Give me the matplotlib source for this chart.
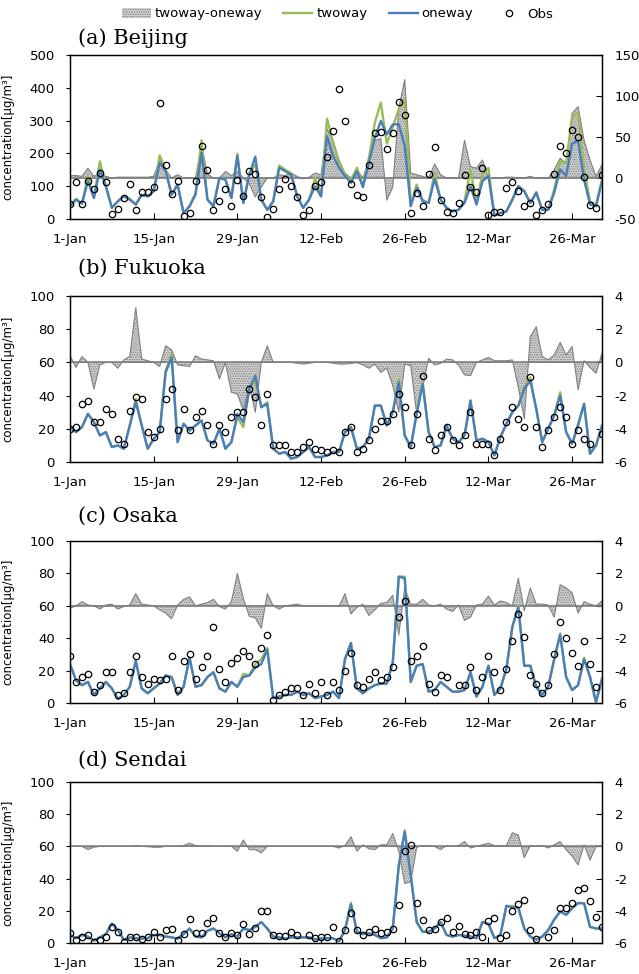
import numpy as np
import pandas as pd
import matplotlib
matplotlib.use('Agg')
import matplotlib.pyplot as plt
import matplotlib.dates as mdates
from matplotlib.patches import Patch
from matplotlib.lines import Line2D

nan = np.nan
dates = pd.date_range('2013-01-01', periods=90)

# (a) Beijing
bj_oneway = [39, 59, 47, 115, 64, 150, 100, 34, 54, 69, 59, 44, 74, 69, 85, 171, 146, 74, 105, 18,
             39, 74, 202, 59, 39, 125, 120, 64, 192, 49, 135, 190, 59, 28, 54, 156, 146, 135, 69, 34,
             59, 100, 69, 253, 192, 156, 131, 110, 146, 97, 171, 248, 299, 258, 288, 289, 222, 39, 95, 54,
             49, 122, 59, 34, 23, 28, 49, 100, 44, 115, 131, 10, 18, 23, 59, 100, 85, 49, 80, 28,
             28, 80, 151, 131, 230, 238, 120, 44, 39, 115]
bj_twoway = [39, 62, 47, 130, 64, 176, 100, 34, 54, 69, 62, 44, 74, 69, 85, 194, 150, 74, 105, 18,
             39, 80, 240, 59, 39, 125, 120, 64, 199, 49, 140, 166, 59, 28, 54, 163, 150, 140, 69, 34,
             59, 125, 69, 306, 233, 171, 135, 118, 156, 100, 185, 294, 355, 230, 280, 335, 365, 45, 105, 58,
             49, 141, 59, 34, 23, 28, 55, 150, 50, 136, 156, 10, 18, 23, 59, 100, 85, 49, 82, 28,
             28, 90, 176, 171, 312, 324, 151, 54, 44, 120]
bj_obs = [47, 112, 47, 115, 92, 139, 112, 16, 29, 64, 108, 27, 83, 83, 97, 355, 166, 76, 117, 8,
          19, 117, 222, 149, 26, 54, 92, 41, 119, 71, 145, 136, 67, 6, 29, 90, 122, 102, 68, 11,
          26, 100, 112, 190, 268, 396, 298, 107, 72, 66, 166, 261, 266, 213, 262, 357, 317, 17, 80, 41,
          136, 219, 59, 20, 17, 49, 133, 97, 83, 156, 11, 21, 21, 96, 114, 84, 40, 49, 12, 27,
          47, 136, 222, 202, 271, 251, 129, 42, 33, 134]
bj_diff = [3, 3, 2, 12, 2, 6, 2, 0, 1, 1, 1, 1, 1, 1, 2, 22, 10, 0, 4, 0,
           0, 0, 40, 5, 0, 0, 8, 3, 8, 0, -7, -23, -11, 0, 0, 4, 3, 6, 2, -1,
           1, 6, 4, 60, 46, 22, 6, 0, 10, 0, 22, 46, 48, -27, -11, 85, 120, 6, 4, 2,
           0, 17, 4, 0, 0, 0, 46, 14, 12, 22, 0, 0, 0, 1, 1, 0, 0, 2, 0, 0,
           0, 10, 24, 18, 79, 87, 46, 22, 2, 16]

# (b) Fukuoka
fk_oneway = [21, 18, 21, 29, 24, 16, 18, 9, 10, 8, 22, 36, 22, 8, 14, 18, 54, 63, 12, 23,
             19, 22, 25, 13, 11, 20, 8, 12, 29, 24, 44, 52, 33, 35, 8, 5, 6, 2, 3, 6,
             9, 3, 3, 4, 6, 6, 18, 21, 8, 9, 14, 34, 34, 22, 30, 48, 16, 9, 29, 47,
             18, 9, 10, 22, 14, 12, 16, 37, 13, 14, 12, 4, 15, 23, 30, 34, 44, 49, 32, 12,
             20, 28, 40, 18, 11, 22, 35, 5, 10, 22]
fk_twoway = [21, 18, 21, 29, 24, 16, 18, 9, 10, 8, 22, 38, 22, 8, 14, 18, 55, 65, 12, 23,
             19, 22, 25, 13, 11, 20, 8, 12, 27, 21, 44, 49, 33, 36, 8, 5, 6, 2, 3, 6,
             9, 3, 3, 4, 6, 6, 18, 21, 8, 9, 14, 34, 34, 22, 30, 50, 16, 9, 30, 48,
             18, 9, 10, 22, 14, 12, 16, 37, 13, 14, 12, 4, 15, 23, 30, 34, 45, 51, 32, 12,
             20, 28, 42, 18, 11, 23, 35, 5, 10, 22]
fk_obs = [20, 21, 35, 37, 24, 24, 32, 29, 14, 11, 31, 39, 38, 18, 15, 20, 38, 44, 19, 32,
          19, 27, 31, 22, 11, 22, 18, 27, 30, 30, 44, 39, 22, 41, 10, 10, 10, 6, 6, 9,
          12, 8, 7, 6, 7, 6, 18, 21, 6, 8, 13, 20, 25, 25, 29, 41, 33, 10, 29, 52,
          14, 7, 16, 21, 13, 10, 16, 30, 11, 11, 11, 4, 14, 24, 33, 26, 21, 51, 21, 9,
          19, 27, 33, 27, 11, 19, 14, 11, nan, 17]
fk_diff = [0.4, -0.3, 0.35, 0, -1.6, -0.15, 0, 0, -0.35, 0.15, 0.35, 3.3, 0.2, 0.1, 0, -0.25, 1.0, 0.75, -0.15, -0.2,
           -0.25, 0.4, 0.2, 0.15, 0.1, -1.0, 0, -1.8, -1.9, -2.9, -1.4, -3.0, 0, 1.0, 0, 0, 0, 0, -0.05, -0.1,
           -0.05, 0, 0, 0, -0.05, -0.1, -0.1, -0.06, -0.02, -0.15, -0.35, -0.1, -0.6, -0.35, -1.4, -3.0, -0.1, -0.2, -3.1, -1.5,
           0.25, -0.15, -0.06, 0.2, 0.15, -0.15, -0.75, -0.8, 0, 0.15, 0.3, 0.1, 0.1, 0.1, 0.15, -1.5, -3.4, 1.55, 2.15, 0.35,
           0.15, 0.45, 1.2, 0.45, 0.95, -1.65, 0.1, -0.3, -0.65, 0.55]

# (c) Osaka
os_oneway = [24, 14, 11, 13, 5, 9, 13, 9, 2.5, 5, 10, 26, 9, 6, 9, 12, 17, 16, 5, 10,
             28, 10, 11, 16, 19, 9, 7, 13, 10, 16, 17, 22, 24, 33, 3, 4, 5, 5, 7, 5,
             6, 3, 4, 5, 7, 3, 27, 37, 9, 6, 9, 11, 12, 12, 25, 78, 77, 13, 23, 24,
             7, 8, 13, 10, 7, 7, 8, 19, 4, 10, 23, 5, 9, 21, 47, 59, 23, 23, 10, 5,
             10, 27, 42, 16, 8, 11, 27, 16, 0.5, 15]
os_twoway = [24, 14, 11, 13, 5, 9, 13, 9, 2.5, 5, 10, 26, 9, 6, 9, 12, 17, 16, 5, 10,
             28, 10, 11, 16, 19, 9, 7, 13, 10, 18, 17, 24, 27, 34, 3, 4, 5, 5, 7, 5,
             6, 3, 4, 5, 7, 3, 27, 37, 9, 6, 9, 11, 12, 12, 25, 78, 78, 13, 23, 24,
             7, 8, 13, 10, 7, 7, 8, 19, 4, 10, 23, 5, 9, 21, 47, 60, 23, 23, 10, 5,
             10, 27, 43, 16, 8, 11, 28, 16, 0.5, 15]
os_obs = [29, 13, 16, 18, 7, 11, 19, 19, 5, 6, 19, 29, 16, 12, 15, 14, 15, 29, 8, 26,
          30, 15, 22, 29, 47, 21, 13, 25, 28, 32, 29, 24, 34, 42, 2, 5, 7, 9, 9, 5,
          12, 6, 13, 5, 13, 8, 20, 31, 11, 10, 15, 19, 14, 16, 22, 53, 63, 26, 29, 35,
          12, 7, 17, 16, nan, 11, 11, 22, 8, 16, 29, 19, 8, 21, 38, 55, 41, 17, 12, 6,
          11, 30, 50, 40, 31, 23, 38, 24, 10, nan]
os_diff = [-0.15, 0, 0.25, 0.05, 0, -0.2, 0.05, 0.1, -0.2, -0.05, 0.05, 0.75, 0.1, 0.05, 0, -0.25, -0.45, -0.8, 0.05, 0.4,
           0.55, 0, 0.1, 0.2, 0.4, -0.05, -0.2, 0.25, 2.0, 0.45, -0.65, -0.75, -1.4, 0.75, 0, -0.2, 0, 0.05, 0.1, 0,
           0, 0, 0, 0, 0, -0.05, 0.75, -0.5, -0.1, 0.1, -0.6, -0.25, 0.15, 0.2, 0.65, -1.8, 1.1, 0.1, 0.1, 0.4,
           0.05, 0, 0.1, -0.2, -0.35, 0.05, -0.9, -0.7, 0.05, 0.1, 0.6, 0.05, 0.3, 0.2, 0, 1.7, -0.3, 1.1, 0.1, 0.1,
           0.05, -0.7, 1.3, 1.1, 0.8, -0.45, 0.25, 0.1, 0, 0.3]

# (d) Sendai
sd_oneway = [5, 3, 5, 4, 1.5, 3.5, 5.5, 12, 8, 2, 3.5, 3, 2.7, 3, 5, 5, 4, 3.5, 2.7, 5.5,
             9, 4, 3.5, 7.6, 9, 6, 3.5, 5.5, 4, 9, 8, 10, 13, 9, 4, 3.5, 2.7, 3.5, 3.5, 3.5,
             3.5, 2.3, 2.7, 3, 3, 1, 8, 24, 7, 5.5, 6, 5, 3, 3.5, 9, 48, 69, 42, 13, 7,
             7, 9, 13, 5, 4, 5, 4.5, 4, 3, 13, 12, 3, 5, 23, 22, 22, 9, 4, 2, 4,
             8, 14.5, 19.6, 17.5, 21.6, 24.7, 24.7, 10, 9, 9]
sd_twoway = [5, 3, 5, 4, 1.5, 3.5, 5.5, 12, 8, 2, 3.5, 3, 2.7, 3, 5, 5, 4, 3.5, 2.7, 5.5,
             9, 4, 3.5, 7.6, 9, 6, 3.5, 5.5, 4, 9, 8, 10, 13, 9, 4, 3.5, 2.7, 3.5, 3.5, 3.5,
             3.5, 2.3, 2.7, 3, 3, 1, 8, 25, 7, 5.5, 6, 5, 3, 3.5, 9, 48, 70, 42, 13, 7,
             7, 9, 13, 5, 4, 5, 4.5, 4, 3, 13, 12, 3, 5, 23, 23, 22, 9, 4, 2, 4,
             8, 14.5, 19.6, 17.5, 21.6, 25, 24.7, 10, 9, 9]
sd_obs = [6.4, 2, 3.5, 4.7, 0.4, 1.6, 4, 10, 7, 0.6, 4, 3.7, 2.5, 3.7, 7, 4, 8, 8.5, 1.6, 5.6,
          14.6, 6, 6.4, 12.6, 15.3, 6.2, 4, 6.2, 4.7, 12, 5.6, 9.3, 20, 20, 5.2, 4.5, 4.5, 6.8, 4.7, nan,
          5.2, 3, 3.5, 3.5, 10, 1, 8, 18.5, 8, 5, 7, 9, 6.4, 7, 8.5, 23.5, 57, 61, 25, 14,
          8, 9, 13, 15.7, 6.6, 10.3, 5.8, 4.7, 6.8, 3.7, 13.4, 15.5, 3, 5, 20, 24.5, 26.6, 8.2, 2.7, nan,
          4, 8.2, 22, 22, 25, 33, 34, 26, 16, 9.7]
sd_diff = [0, 0, 0, -0.2, -0.05, 0, 0, 0, 0, 0, 0, 0.05, 0, -0.02, -0.05, -0.05, 0, 0, 0, 0.05,
           0.2, 0.05, 0, 0.05, 0, 0, 0, 0, -0.3, 0.4, -0.2, -0.2, -0.4, 0, 0, 0, 0, 0, 0, 0,
           0, 0, 0, 0, 0, -0.1, 0.05, 0.6, -0.3, 0.1, -0.15, -0.2, 0.1, 0.1, 0.8, -0.3, -2.3, -2.2, -0.05, 0.05,
           0.05, 0, -0.2, 0.05, 0, 0.05, 0.3, -0.1, 0, 0.1, 0.2, 0.05, 0.05, 0.05, 0.85, 0.7, -0.7, 0.05, 0, 0.05,
           -0.1, 0.1, 0.3, -0.2, -0.6, -1.15, 0.1, -0.85, 0, 0]

titles = ['(a) Beijing', '(b) Fukuoka', '(c) Osaka', '(d) Sendai']
legend_labels = ['twoway-oneway', 'twoway', 'oneway', 'Obs']

green = '#9bbb59'
blue = '#4a7ebb'
grey = '#808080'
fill = '#d2d2d2'
plt.rcParams['hatch.linewidth'] = 0.7
plt.rcParams['axes.unicode_minus'] = False

panels = [
    (bj_twoway, bj_oneway, bj_obs, bj_diff, (0, 500, 100), (-50, 150, 50)),
    (fk_twoway, fk_oneway, fk_obs, fk_diff, (0, 100, 20), (-6, 4, 2)),
    (os_twoway, os_oneway, os_obs, os_diff, (0, 100, 20), (-6, 4, 2)),
    (sd_twoway, sd_oneway, sd_obs, sd_diff, (0, 100, 20), (-6, 4, 2)),
]
# axes boxes in pixels of the 639x974 figure: (top, bottom)
boxes = [(55, 219), (296, 462), (541, 703), (782, 943)]
title_y = [38, 268, 516, 760]

fig = plt.figure(figsize=(6.39, 9.74), dpi=100)
W, H = 639, 974
x0, x1 = 70, 602

for k, (tw, ow, ob, df, lrng, rrng) in enumerate(panels):
    top, bot = boxes[k]
    ax = fig.add_axes([x0 / W, 1 - bot / H, (x1 - x0) / W, (bot - top) / H])
    ax2 = ax.twinx()

    ax2.fill_between(dates, df, 0, facecolor=fill, edgecolor=grey,
                     hatch='.......', linewidth=0.8)
    ax2.axhline(0, color=grey, lw=1.1)

    ax.set_zorder(ax2.get_zorder() + 1)
    ax.patch.set_visible(False)
    ax.plot(dates, tw, color=green, lw=1.7)
    ax.plot(dates, ow, color=blue, lw=1.7)
    ax.plot(dates, ob, 'o', mfc='none', mec='black', ms=4.6, mew=0.9)

    ax.set_xlim(dates[0], dates[-1])
    ax.set_ylim(lrng[0], lrng[1])
    ax.set_yticks(np.arange(lrng[0], lrng[1] + 1, lrng[2]))
    ax2.set_ylim(rrng[0], rrng[1])
    ax2.set_yticks(np.arange(rrng[0], rrng[1] + 1, rrng[2]))

    ax.set_xticks(dates[::14])
    ax.xaxis.set_major_formatter(mdates.DateFormatter('%-d-%b'))
    ax.tick_params(axis='x', direction='in', length=4, pad=10, labelsize=9.5)
    ax.tick_params(axis='y', direction='out', length=3, pad=8, labelsize=9.5)
    ax2.tick_params(axis='y', direction='in', length=4, pad=9, labelsize=9.5)
    for a in (ax, ax2):
        for s in a.spines.values():
            s.set_linewidth(0.9)

    ax.set_ylabel('concentration[μg/m³]', fontsize=8.5)
    ax.yaxis.set_label_coords((14 - x0) / (x1 - x0), 0.5)

    fig.text(78 / W, 1 - title_y[k] / H, titles[k], ha='left', va='center',
             family='DejaVu Serif', fontsize=15)

handles = [
    Patch(facecolor=fill, edgecolor=grey, hatch='.......', linewidth=0),
    Line2D([], [], color=green, lw=1.7),
    Line2D([], [], color=blue, lw=1.7),
    Line2D([], [], ls='none', marker='o', mfc='none', mec='black', ms=4.6, mew=0.9),
]
fig.legend(handles, legend_labels, loc='center', bbox_to_anchor=(0.528, 1 - 14 / H),
           ncol=4, frameon=False, fontsize=9.5, handlelength=2.2, handletextpad=0.3,
           columnspacing=1.6)

fig.savefig('out.png', dpi=100)
